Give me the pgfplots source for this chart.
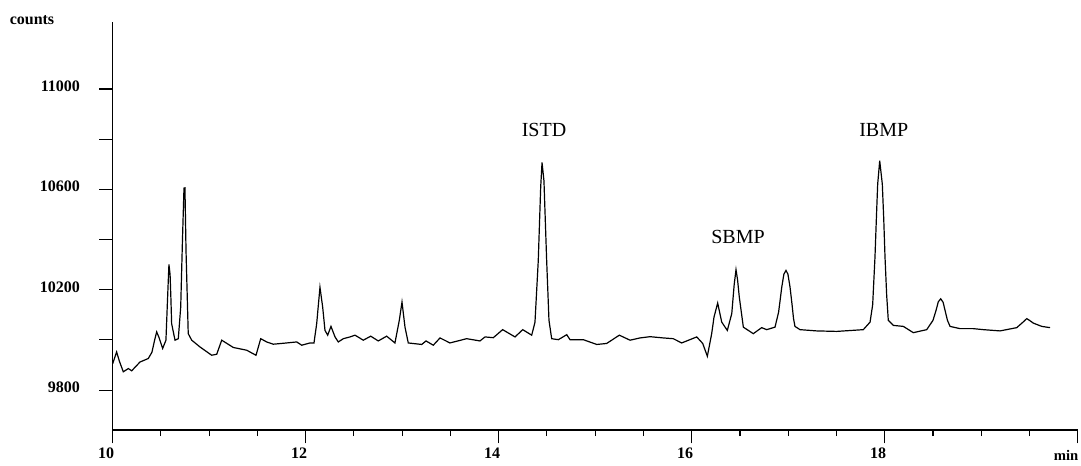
\documentclass[border=0pt]{standalone}
\usepackage{pgfplots}
\pgfplotsset{compat=1.18}
\usepackage{fontspec}
\setmainfont{Liberation Serif}

% chromatogram trace, retention time (min) vs counts
\pgfplotstableread{
t      c
10.000 9905
10.041 9952
10.070 9915
10.110 9873
10.162 9886
10.197 9877
10.283 9912
10.369 9926
10.407 9951
10.435 10000
10.456 10032
10.480 10010
10.518 9966
10.552 9999
10.568 10158
10.583 10301
10.595 10260
10.604 10158
10.611 10065
10.646 9999
10.680 10005
10.705 10131
10.723 10396
10.739 10605
10.749 10606
10.760 10356
10.783 10025
10.819 9999
10.905 9972
11.026 9939
11.078 9943
11.130 9999
11.250 9970
11.389 9959
11.485 9939
11.534 10005
11.596 9992
11.664 9983
11.803 9988
11.907 9992
11.959 9979
12.045 9988
12.086 9988
12.114 10065
12.148 10210
12.176 10131
12.200 10038
12.228 10019
12.262 10054
12.304 10012
12.338 9992
12.390 10005
12.459 10012
12.511 10019
12.597 9999
12.674 10015
12.752 9996
12.839 10015
12.925 9988
12.970 10078
12.998 10151
13.029 10051
13.063 9988
13.202 9982
13.247 9996
13.322 9979
13.392 10008
13.495 9988
13.668 10005
13.806 9996
13.858 10012
13.944 10009
14.041 10041
14.169 10012
14.249 10041
14.342 10019
14.376 10071
14.410 10316
14.435 10608
14.449 10707
14.469 10634
14.497 10316
14.521 10078
14.549 10005
14.618 10001
14.705 10021
14.739 10001
14.877 10001
15.016 9982
15.119 9986
15.250 10019
15.361 9999
15.464 10008
15.568 10013
15.706 10008
15.809 10005
15.896 9988
16.052 10012
16.114 9986
16.162 9935
16.207 10025
16.231 10091
16.269 10147
16.311 10071
16.369 10038
16.415 10105
16.440 10220
16.459 10280
16.475 10240
16.493 10171
16.535 10051
16.638 10025
16.725 10049
16.777 10041
16.863 10051
16.900 10110
16.920 10170
16.933 10210
16.955 10262
16.977 10277
16.997 10262
17.019 10210
17.040 10140
17.055 10085
17.070 10054
17.122 10041
17.295 10036
17.503 10034
17.778 10041
17.848 10071
17.875 10140
17.899 10330
17.915 10500
17.927 10621
17.948 10714
17.975 10621
17.990 10480
18.003 10330
18.020 10180
18.037 10078
18.089 10058
18.193 10054
18.296 10029
18.435 10041
18.500 10078
18.532 10118
18.555 10152
18.580 10164
18.605 10150
18.625 10118
18.650 10078
18.677 10054
18.780 10045
18.918 10045
19.022 10041
19.195 10036
19.368 10049
19.430 10070
19.472 10085
19.500 10078
19.540 10067
19.627 10054
19.713 10049
}\trace

\begin{document}
\begin{tikzpicture}
\useasboundingbox (-84.5pt,-26.25pt) rectangle (726.2pt,322.5pt);
\begin{axis}[
    scale only axis,
    width=723.75pt,
    height=306.2pt,
    xmin=10, xmax=20,
    ymin=9641, ymax=11268,
    axis x line*=bottom,
    axis y line*=left,
    axis line style={line width=0.8pt},
    tick align=outside,
    tick style={black, line width=0.8pt},
    major tick length=10pt,
    minor tick length=4.5pt,
    xtick={10,12,14,16,18,20},
    xticklabels={10,12,14,16,18,},
    minor x tick num=3,
    ytick={9800,10000,10200,10400,10600,10800,11000},
    yticklabels={9800,,10200,,10600,,11000},
    tick label style={font=\fontsize{12}{14}\selectfont\bfseries},
    xticklabel style={xshift=-5pt},
    yticklabel style={xshift=-11pt, yshift=2pt},
    scaled y ticks=false,
    /pgf/number format/assume math mode=true,
    clip=false,
]
\addplot[black, line width=0.9pt] table[x=t, y=c] {\trace};

\node[font=\fontsize{15}{18}\selectfont] at (axis cs:14.47,10835) {ISTD};
\node[font=\fontsize{15}{18}\selectfont] at (axis cs:16.48,10412) {SBMP};
\node[font=\fontsize{15}{18}\selectfont] at (axis cs:17.99,10835) {IBMP};

\node[font=\fontsize{12}{14}\selectfont\bfseries] at (axis description cs:-0.0836,1.004) {counts};
\node[font=\fontsize{11}{13}\selectfont\bfseries] at (axis description cs:0.988,-0.062) {min};
\end{axis}
\end{tikzpicture}
\end{document}
